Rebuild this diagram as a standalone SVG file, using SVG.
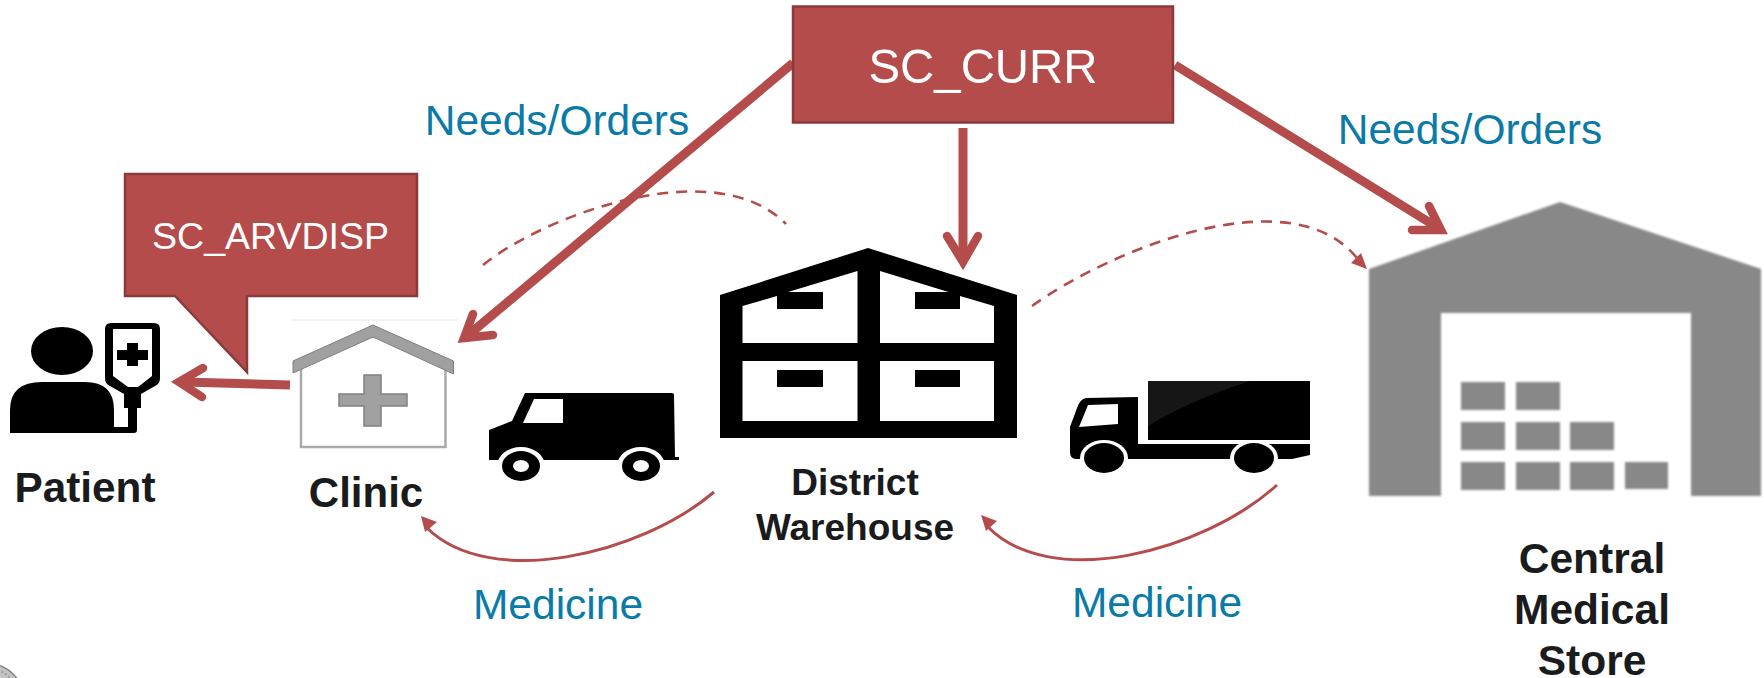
<svg xmlns="http://www.w3.org/2000/svg" width="1764" height="678" viewBox="0 0 1764 678">
<style>
text{font-family:"Liberation Sans",Arial,sans-serif}
.name{font-weight:bold;fill:#1a1b1d;text-anchor:middle}
.flow{font-size:42.500px;fill:#0a7aa8;text-anchor:middle}
.tag{fill:#fff;text-anchor:middle}
.box{fill:#b54c4c;stroke:#8b3a3c;stroke-width:2.5}
.thick{fill:none;stroke:#b54c4c;stroke-width:9}
.head{fill:none;stroke:#b54c4c;stroke-width:8.500;stroke-linecap:round;stroke-linejoin:miter;stroke-miterlimit:10}
.dash{fill:none;stroke:#b54c4c;stroke-width:2.6;stroke-dasharray:11 8}
.curve{fill:none;stroke:#b54c4c;stroke-width:3}
.tip{fill:#b54c4c}
.g{fill:#888}
.k{fill:#000}
.w{fill:#fff}
</style>
<defs>
<filter id="soft" x="-5%" y="-5%" width="110%" height="110%"><feGaussianBlur stdDeviation="0.9"/></filter>
<filter id="soft2" x="-5%" y="-5%" width="110%" height="110%"><feGaussianBlur stdDeviation="0.5"/></filter>
</defs>

<g id="seal"><circle cx="-14" cy="702" r="39" fill="#c4c4c4" stroke="#858585" stroke-width="1.500"/><circle cx="-14" cy="702" r="34" fill="none" stroke="#9a9a9a" stroke-width="2" stroke-dasharray="2 2"/></g>

<g id="central-medical-store">
<g filter="url(#soft)">
<path class="g" fill-rule="evenodd" d="M1369 269L1560 202L1761 269V496H1691V313H1441V496H1369Z"/>
<path class="g" d="M1461 382h44v28h-44zM1516 382h44v28h-44zM1461 422h44v28h-44zM1516 422h44v28h-44zM1570 422h44v28h-44zM1461 462h44v28h-44zM1516 462h44v28h-44zM1570 462h44v28h-44zM1625 462h43v27h-43z"/>
</g>
<text class="name" font-size="42.500" x="1592" y="573">Central</text>
<text class="name" font-size="42.500" x="1592" y="624">Medical</text>
<text class="name" font-size="42.500" x="1592" y="675">Store</text>
</g>

<g id="truck" filter="url(#soft2)">
<path class="k" d="M1148 381H1310V440H1148Z"/>
<path fill="#191919" d="M1148 381H1250Q1190 400 1148 426Z"/>
<path class="k" d="M1086 398L1138 397V444H1310V455L1292 459H1076Q1070 459 1070 452V427L1077 408Q1080 399 1086 398Z"/>
<path class="w" d="M1088 405L1118 404V424L1079 427Z"/>
<ellipse class="w" cx="1104" cy="458" rx="24" ry="18"/>
<ellipse class="w" cx="1254" cy="458" rx="24" ry="18"/>
<ellipse class="k" cx="1104" cy="458" rx="20" ry="15"/>
<ellipse class="k" cx="1254" cy="458" rx="20" ry="15"/>
</g>

<g id="district-warehouse">
<g filter="url(#soft2)">
<path class="k" d="M720 295L868 248L1017 295V438H720Z"/>
<path class="w" d="M742.500 306L777 296V309H823V292H788L857.500 271V343H742.500Z"/>
<path class="w" d="M880 271L948.500 292H915V309H960V296L994 306V343H880Z"/>
<path class="w" d="M742.500 361H857.500V421H742.500ZM880 361H994V421H880Z"/>
<path class="k" d="M777 370h46v17h-46zM915 370h45v17h-45z"/>
</g>
<text class="name" font-size="37" x="855" y="495">District</text>
<text class="name" font-size="37" x="855" y="540">Warehouse</text>
</g>

<g id="van" filter="url(#soft2)">
<path class="k" d="M489 430L512 421L525 393H672Q674 393 674 395L675 457H679V460H489Z"/>
<path class="w" d="M534 399H563V423H523Z"/>
<ellipse class="w" cx="521" cy="466" rx="24" ry="19"/>
<ellipse class="w" cx="641" cy="466" rx="24" ry="19"/>
<rect class="w" x="485" y="461" width="200" height="22"/>
<ellipse class="k" cx="521" cy="466" rx="19" ry="15"/>
<ellipse class="k" cx="641" cy="466" rx="19" ry="15"/>
<ellipse class="w" cx="521" cy="466" rx="8" ry="6"/>
<ellipse class="w" cx="641" cy="466" rx="8" ry="6"/>
</g>

<g id="clinic">
<path fill="none" stroke="#e8e8e8" stroke-width="1" d="M292 320H458"/>
<path fill="#fff" stroke="#aaa" stroke-width="2.500" d="M301 366V447H445.500V366"/>
<path fill="#a0a0a0" stroke="#808080" stroke-width="1" d="M293 361L373 325L453.500 361V374L373 337L293 373Z"/>
<path fill="#a0a0a0" stroke="#808080" stroke-width="1.500" d="M364 375H381V394H407V406H381V426H364V406H339V394H364Z"/>
<text class="name" font-size="42" x="366" y="507">Clinic</text>
</g>

<g id="patient">
<ellipse class="k" cx="62" cy="351" rx="31" ry="24"/>
<path class="k" d="M10 433V410Q10 382 42 382H85Q114 382 114 410V427H128V408H124V394L110 386Q105 384 105 378V329Q105 323 111 323H154Q160 323 160 329V378Q160 384 155 386L141 394V408H137V430Q137 433 134 433Z"/>
<path class="w" d="M113 329H152V376L138 387H128L113 376Z"/>
<path class="k" d="M127 343H138V350H148V360H138V366H127V360H117V350H127Z"/>
<text class="name" font-size="42.300" x="85" y="502">Patient</text>
</g>

<g id="connectors">
<path class="dash" d="M483 265C545 215 715 152 786 224"/>
<path class="dash" d="M1032 306C1110 250 1290 176 1357 258"/>
<path class="tip" d="M1367 269L1361 253L1351 263Z"/>
<path class="curve" d="M714 492C640 555 490 590 427 528"/>
<path class="tip" d="M421 516L437 522L425 532Z"/>
<path class="curve" d="M1277 485C1203 552 1050 592 987 526"/>
<path class="tip" d="M981 515L997 521L986 531Z"/>
<path class="thick" d="M793 63L466 337"/>
<path class="head" d="M473 314L464 338L493 335"/>
<path class="thick" d="M963 128V262"/>
<path class="head" d="M947 236L963 262L978 236"/>
<path class="thick" d="M1175 65L1440 229"/>
<path class="head" d="M1429 206L1441 230L1412 230"/>
<path class="thick" d="M290 385L184 382"/>
<path class="head" d="M203 368L179 382L202 397"/>
</g>

<g id="sc-curr">
<rect class="box" x="793" y="6.500" width="380" height="116"/>
<text class="tag" font-size="49" x="983" y="83" textLength="229" lengthAdjust="spacingAndGlyphs">SC_CURR</text>
</g>
<g id="sc-arvdisp">
<path class="box" d="M125 174H417V296H247V372L175 296H125Z"/>
<text class="tag" font-size="37.500" x="270.500" y="249">SC_ARVDISP</text>
</g>

<text class="flow" x="557" y="135">Needs/Orders</text>
<text class="flow" x="1470" y="144">Needs/Orders</text>
<text class="flow" x="558" y="619">Medicine</text>
<text class="flow" x="1157" y="617">Medicine</text>
</svg>
